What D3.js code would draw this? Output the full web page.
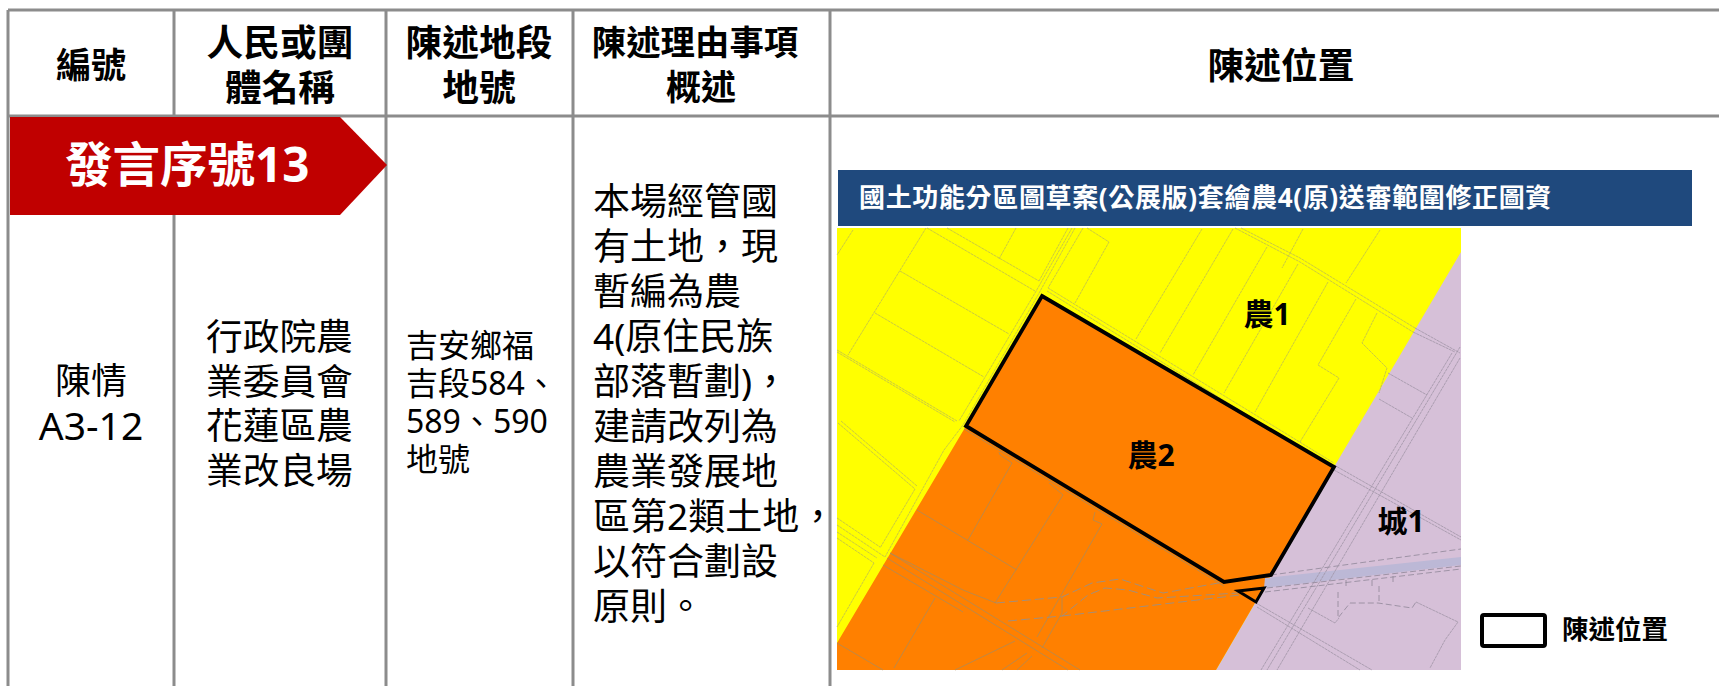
<!DOCTYPE html>
<html>
<head>
<meta charset="utf-8">
<script src="https://cdn.jsdelivr.net/npm/d3@7"></script>
<style>
  html, body { margin: 0; background: #fff; overflow: hidden; }
  text { font-family: "Noto Sans", "Noto Sans CJK TC", sans-serif; }
</style>
</head>
<body>
<div id="chart"></div>
<script>
const width = 1719;
const height = 686;

// **************************** table content ****************************
const headers = [
  ["編號"],
  ["人民或團", "體名稱"],
  ["陳述地段", "地號"],
  ["陳述理由事項", "概述"],
  ["陳述位置"]
];
const caseTitle = ["陳情"];
const caseNumber = ["A3-12"];
const petitioner = ["行政院農", "業委員會", "花蓮區農", "業改良場"];
const parcel = ["吉安鄉福", "吉段584、", "589、590", "地號"];
const reason = ["本場經管國", "有土地，現", "暫編為農", "4(原住民族", "部落暫劃)，", "建請改列為", "農業發展地", "區第2類土地，", "以符合劃設", "原則。"];
const bannerLabel = "發言序號13";
const mapTitle = "國土功能分區圖草案(公展版)套繪農4(原)送審範圍修正圖資";
const legendLabel = "陳述位置";

// **************************** map content (map units, 624 x 442) ****************************
const orangeZone = [[129,198],[205,68],[497,239],[379,442],[0,442],[0,415]];
const lavenderZone = [[624,24],[624,442],[379,442],[497,239]];
const canalBand = [[428,350],[624,329],[624,337],[427,360]];
const statedArea = [[205,68],[497,239],[434,347],[387,354],[129,198]];
const statedTriangle = [[401,363],[427,360],[419,374]];

const zoneLabels = [
  {name: "農1", x: 430, y: 86},
  {name: "農2", x: 314, y: 227},
  {name: "城1", x: 564, y: 293}
];

const parcelLinesYellow = [
  [[16,2],[0,27]],
  [[89,0],[11,127]],
  [[63,43],[172,106]],
  [[38,85],[147,149]],
  [[90,0],[198,63]],
  [[110,0],[202,53]],
  [[179,0],[162,31]],
  [[235,0],[198,65],[122,193]],
  [[231,0],[202,53]],
  [[238,0],[201,67],[126,197],[107,222],[48,329]],
  [[246,0],[211,60]],
  [[250,0],[272,14],[238,75]],
  [[211,60],[497,235]],
  [[210,63],[490,236]],
  [[404,0],[463,30],[578,100]],
  [[398,0],[463,34],[576,104]],
  [[0,122],[120,193]],
  [[0,124],[118,194]],
  [[1,195],[78,261]],
  [[4,193],[80,258]],
  [[78,261],[43,320]],
  [[0,290],[43,319]],
  [[0,297],[48,329]],
  [[0,304],[40,330]],
  [[0,310],[37,335]],
  [[37,335],[0,399]],
  [[365,1],[299,111]],
  [[396,1],[323,125]],
  [[430,19],[356,147]],
  [[461,36],[387,165]],
  [[491,54],[418,184]],
  [[466,1],[445,40]],
  [[543,2],[509,55]],
  [[519,71],[481,137],[502,150],[463,214]],
  [[540,85],[525,115],[550,140],[542,165]]
];

const parcelLinesOrange = [
  [[127,201],[387,358]],
  [[53,325],[126,362],[159,375]],
  [[53,325],[243,442]],
  [[50,330],[231,442]],
  [[46,337],[126,384]],
  [[80,282],[180,342]],
  [[162,224],[163,227],[175,235],[131,312]],
  [[212,255],[226,267],[158,375]],
  [[258,284],[256,292],[265,296],[200,409]],
  [[205,420],[225,385],[225,369]],
  [[98,370],[57,440]],
  [[0,415],[46,442]],
  [[178,413],[118,442]],
  [[190,425],[165,442]],
  [[195,428],[180,442]]
];

const roadDashes = [
  [[159,375],[225,369],[255,355],[283,351],[326,365],[387,354]],
  [[171,393],[225,388],[251,367],[268,360],[291,362],[320,370],[401,365]],
  [[225,388],[403,367]]
];

const parcelLinesLavender = [
  [[578,100],[623,125]],
  [[576,104],[618,124]],
  [[623,119],[430,442]],
  [[623,130],[440,442]],
  [[615,125],[424,442]],
  [[497,237],[624,309]],
  [[497,242],[624,312]],
  [[419,375],[535,442]],
  [[420,379],[523,442]],
  [[551,145],[590,167]],
  [[542,171],[575,190]],
  [[471,380],[498,395],[502,390]],
  [[579,374],[621,394],[608,412],[593,440]]
];

const lavenderDashes = [
  [[434,347],[624,321]],
  [[428,364],[624,341]],
  [[430,360],[624,338]],
  [[501,364],[501,390],[513,375],[541,375],[575,380],[579,374]],
  [[509,352],[509,358]],
  [[535,352],[535,358]],
  [[542,358],[542,375]],
  [[556,348],[556,356]]
];

// **************************** drawing ****************************
const svg = d3.select("#chart").append("svg")
  .attr("width", width)
  .attr("height", height)
  .attr("viewBox", [0, 0, width, height])
  .style("display", "block");

// column edges of the table
const columnEdges = [8, 174, 386, 573, 830, width];
const topLine = 10;
const headerBottom = 116;
const lineColor = "#8c8c8c";

const grid = svg.append("g")
  .attr("stroke", lineColor)
  .attr("stroke-width", 3);

grid.selectAll("line.col")
  .data(columnEdges.slice(0, -1))
  .join("line")
  .attr("class", "col")
  .attr("x1", d => d)
  .attr("x2", d => d)
  .attr("y1", topLine)
  .attr("y2", height);

grid.selectAll("line.row")
  .data([topLine, headerBottom])
  .join("line")
  .attr("class", "row")
  .attr("x1", columnEdges[0])
  .attr("x2", width)
  .attr("y1", d => d)
  .attr("y2", d => d);

// helper for stacked lines of text
function textBlock(lines, x, firstY, lineHeight, size, anchor, weight) {
  svg.append("g")
    .selectAll("text")
    .data(lines)
    .join("text")
    .attr("x", x)
    .attr("y", (d, i) => firstY + i * lineHeight)
    .attr("dy", "0.35em")
    .attr("text-anchor", anchor)
    .attr("font-size", size)
    .attr("font-weight", weight)
    .attr("fill", "#000")
    .text(d => d);
}

// header row
textBlock(headers[0], 91, 66, 45, 35, "middle", 700);
textBlock(headers[1], 280, 43, 45, 36.7, "middle", 700);
textBlock(headers[2], 479, 43, 45, 36.7, "middle", 700);
textBlock([headers[3][0]], 695, 43, 45, 34.4, "middle", 700);
textBlock([headers[3][1]], 701, 88, 45, 35, "middle", 700);
textBlock(headers[4], 1281, 66, 45, 36.7, "middle", 700);

// body cells
textBlock(caseTitle, 91, 381, 45, 36, "middle", 400);
textBlock(caseNumber, 91, 426, 45, 39, "middle", 400);
textBlock(petitioner, 206, 337, 44.7, 36.7, "start", 400);
textBlock(parcel, 406, 346, 38, 32, "start", 400);
textBlock(reason, 593, 202, 45, 37, "start", 400);

// red banner
svg.append("path")
  .attr("d", d3.line()([[10, 117], [340, 117], [387, 165], [340, 215], [10, 215]]) + "Z")
  .attr("fill", "#c00000");
svg.append("text")
  .attr("x", 65)
  .attr("y", 165)
  .attr("dy", "0.35em")
  .attr("font-size", 47.5)
  .attr("font-weight", 700)
  .attr("fill", "#fff")
  .text(bannerLabel);

// map title bar
svg.append("rect")
  .attr("x", 838)
  .attr("y", 170)
  .attr("width", 854)
  .attr("height", 56)
  .attr("fill", "#1f497d");
svg.append("text")
  .attr("x", 859)
  .attr("y", 198)
  .attr("dy", "0.35em")
  .attr("font-size", 26)
  .attr("letter-spacing", 0.65)
  .attr("font-weight", 700)
  .attr("fill", "#fff")
  .text(mapTitle);

// map
const x = d3.scaleLinear().domain([0, 624]).range([837, 1461]);
const y = d3.scaleLinear().domain([0, 442]).range([228, 670]);
const path = d3.line().x(d => x(d[0])).y(d => y(d[1]));

const map = svg.append("g");

map.append("rect")
  .attr("x", x(0))
  .attr("y", y(0))
  .attr("width", x(624) - x(0))
  .attr("height", y(442) - y(0))
  .attr("fill", "#ffff00");

map.append("path").attr("d", path(lavenderZone) + "Z").attr("fill", "#d6c0d8");
map.append("path").attr("d", path(orangeZone) + "Z").attr("fill", "#ff8000");
map.append("path").attr("d", path(canalBand) + "Z").attr("fill", "#bcb8d6");

function thinLines(data, color, dash) {
  map.append("g")
    .attr("fill", "none")
    .attr("stroke", color)
    .attr("stroke-width", 0.8)
    .attr("stroke-dasharray", dash)
    .selectAll("path")
    .data(data)
    .join("path")
    .attr("d", path);
}

thinLines(parcelLinesYellow, "#bcbc50", "3 0.6");
thinLines(parcelLinesOrange, "#ad8a58", null);
thinLines(roadDashes, "#8d9298", "9 4");
thinLines(parcelLinesLavender, "#a094a6", "3 0.6");
thinLines(lavenderDashes, "#8f8798", "6 3");

// stated area outline
map.append("path")
  .attr("d", path(statedArea) + "Z")
  .attr("fill", "#ff8000")
  .attr("stroke", "#000")
  .attr("stroke-width", 3.8)
  .attr("stroke-linejoin", "miter");
map.append("path")
  .attr("d", path(statedTriangle) + "Z")
  .attr("fill", "#ff8000")
  .attr("stroke", "#000")
  .attr("stroke-width", 3);

map.selectAll("text.zone")
  .data(zoneLabels)
  .join("text")
  .attr("class", "zone")
  .attr("x", d => x(d.x))
  .attr("y", d => y(d.y))
  .attr("dy", "0.35em")
  .attr("text-anchor", "middle")
  .attr("font-size", 30)
  .attr("font-weight", 700)
  .attr("fill", "#000")
  .text(d => d.name);

// legend
svg.append("rect")
  .attr("x", 1482)
  .attr("y", 615)
  .attr("width", 63)
  .attr("height", 31)
  .attr("rx", 2)
  .attr("fill", "#fff")
  .attr("stroke", "#000")
  .attr("stroke-width", 4);
svg.append("text")
  .attr("x", 1562)
  .attr("y", 630)
  .attr("dy", "0.35em")
  .attr("font-size", 26.5)
  .attr("font-weight", 700)
  .attr("fill", "#000")
  .text(legendLabel);
</script>
</body>
</html>
